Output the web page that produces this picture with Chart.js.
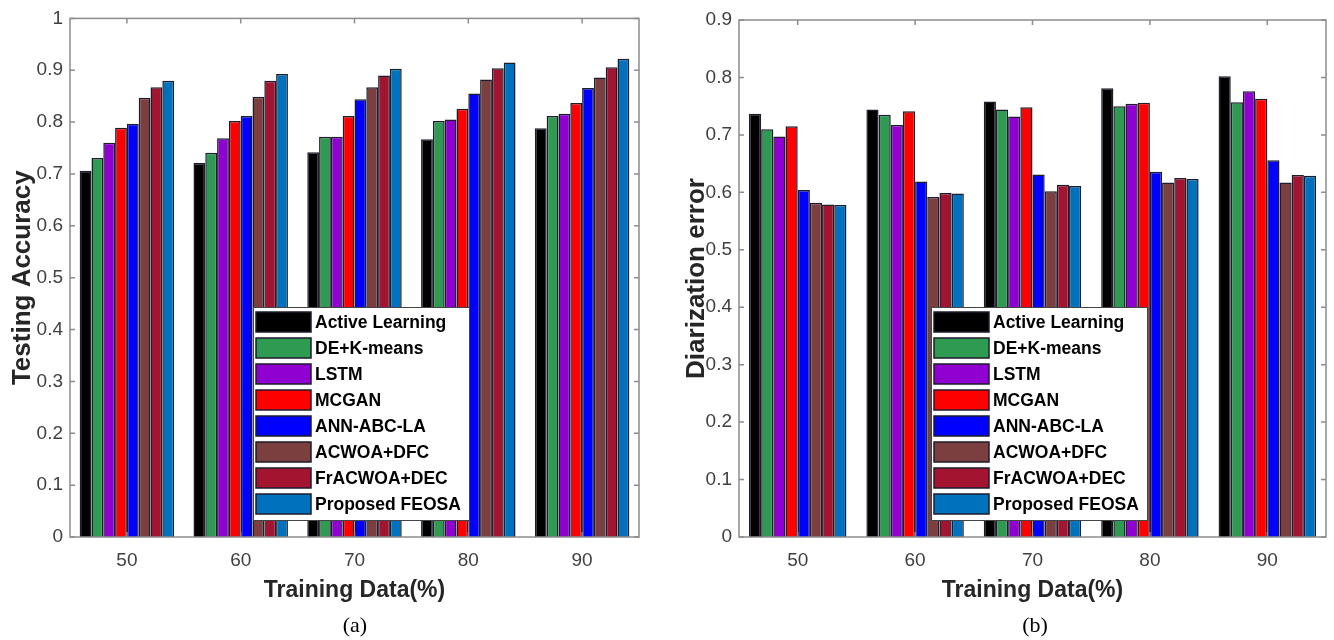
<!DOCTYPE html>
<html>
<head>
<meta charset="utf-8">
<script src="https://cdn.jsdelivr.net/npm/chart.js@4.4.0/dist/chart.umd.min.js"></script>
<style>
  body { margin: 0; background: #fff; width: 1334px; height: 640px; position: relative; overflow: hidden; }
  .wrap { position: absolute; top: 0; height: 615px; }
  #wa { left: 0; width: 660px; }
  #wb { left: 660px; width: 674px; }
  .cap { position: absolute; top: 612px; width: 60px; text-align: center; font: 22px "Liberation Serif", "Times New Roman", serif; color: #000; }
</style>
</head>
<body>
<div class="wrap" id="wa"><canvas id="chartA"></canvas></div>
<div class="wrap" id="wb"><canvas id="chartB"></canvas></div>
<div class="cap" style="left:325px">(a)</div>
<div class="cap" style="left:1005px">(b)</div>
<script>
// x categories (training data %)
var categories = ['50', '60', '70', '80', '90'];
var methods = ['Active Learning', 'DE+K-means', 'LSTM', 'MCGAN', 'ANN-ABC-LA', 'ACWOA+DFC', 'FrACWOA+DEC', 'Proposed FEOSA'];
var colors = ['#000000', '#2f9a52', '#9000d0', '#ff0000', '#0000ff', '#7c3f3f', '#a2142f', '#0072bd'];

// (a) testing accuracy
var accActive = [0.706, 0.721, 0.742, 0.767, 0.788];
var accDEKmeans = [0.731, 0.741, 0.772, 0.802, 0.812];
var accLSTM = [0.760, 0.769, 0.772, 0.805, 0.816];
var accMCGAN = [0.789, 0.802, 0.812, 0.826, 0.837];
var accANN = [0.797, 0.812, 0.844, 0.855, 0.866];
var accACWOA = [0.847, 0.849, 0.867, 0.882, 0.886];
var accFrACWOA = [0.867, 0.880, 0.890, 0.904, 0.906];
var accFEOSA = [0.880, 0.893, 0.903, 0.915, 0.922];

// (b) diarization error
var errActive = [0.737, 0.744, 0.758, 0.781, 0.802];
var errDEKmeans = [0.710, 0.735, 0.744, 0.750, 0.757];
var errLSTM = [0.697, 0.717, 0.732, 0.754, 0.776];
var errMCGAN = [0.715, 0.741, 0.748, 0.756, 0.763];
var errANN = [0.604, 0.619, 0.631, 0.636, 0.656];
var errACWOA = [0.582, 0.592, 0.602, 0.617, 0.617];
var errFrACWOA = [0.579, 0.599, 0.613, 0.625, 0.630];
var errFEOSA = [0.578, 0.598, 0.611, 0.623, 0.629];

var accSeries = [accActive, accDEKmeans, accLSTM, accMCGAN, accANN, accACWOA, accFrACWOA, accFEOSA];
var errSeries = [errActive, errDEKmeans, errLSTM, errMCGAN, errANN, errACWOA, errFrACWOA, errFEOSA];

var sans = 'Arial, "Liberation Sans", sans-serif';

// box, inward ticks and the legend inside the plot
var frame = {
  id: 'frame',
  afterDatasetsDraw: function (chart) {
    var a = chart.chartArea, c = chart.ctx, xs = chart.scales.x, ys = chart.scales.y;
    c.save();
    c.strokeStyle = '#8c8c8c';
    c.lineWidth = 1.5;
    c.strokeRect(a.left, a.top, a.right - a.left, a.bottom - a.top);
    c.beginPath();
    ys.ticks.forEach(function (t) {
      var p = ys.getPixelForValue(t.value);
      c.moveTo(a.left, p); c.lineTo(a.left + 5, p);
      c.moveTo(a.right, p); c.lineTo(a.right - 5, p);
    });
    categories.forEach(function (lab, i) {
      var p = xs.getPixelForValue(i);
      c.moveTo(p, a.top); c.lineTo(p, a.top + 5);
      c.moveTo(p, a.bottom); c.lineTo(p, a.bottom - 5);
    });
    c.stroke();
    c.restore();
  },
  afterDraw: function (chart) {
    var o = chart.options.plugins.frame, c = chart.ctx;
    var bx = o.legendX, by = o.legendY, w = 216, h = 213;
    c.save();
    c.fillStyle = '#fff';
    c.fillRect(bx, by, w, h);
    c.strokeStyle = '#444';
    c.lineWidth = 1;
    c.strokeRect(bx + 0.5, by + 0.5, w, h);
    chart.data.datasets.forEach(function (ds, i) {
      var cy = by + 15 + i * 26;
      c.fillStyle = ds.backgroundColor;
      c.fillRect(bx + 3, cy - 10, 55, 20);
      c.strokeStyle = '#1c1c2c';
      c.lineWidth = 1.5;
      c.strokeRect(bx + 3, cy - 10, 55, 20);
      c.fillStyle = '#000';
      c.font = 'bold 17.5px ' + sans;
      c.textBaseline = 'middle';
      c.fillText(ds.label, bx + 62, cy + 1);
    });
    c.restore();
  }
};

function makeChart(id, series, yMax, yTitle, axisW, pad, titlePad, legendX) {
  return new Chart(document.getElementById(id), {
    type: 'bar',
    data: {
      labels: categories,
      datasets: methods.map(function (m, i) {
        return {
          label: m,
          data: series[i],
          backgroundColor: colors[i],
          borderColor: '#1c1c2c',
          borderWidth: 1.5,
          categoryPercentage: 0.83,
          barPercentage: 1.0
        };
      })
    },
    options: {
      responsive: true,
      maintainAspectRatio: false,
      animation: false,
      layout: { padding: pad },
      plugins: {
        legend: { display: false },
        tooltip: { enabled: false },
        frame: { legendX: legendX, legendY: 307 }
      },
      scales: {
        x: {
          grid: { display: false, drawTicks: false },
          border: { display: false },
          ticks: { padding: 12, color: '#404040', font: { family: sans, size: 19 } },
          title: { display: true, text: 'Training Data(%)', color: '#262626', padding: { top: 4, bottom: 11 }, font: { family: sans, size: 23, weight: 'bold' } },
          afterFit: function (s) { s.height = 78; }
        },
        y: {
          min: 0,
          max: yMax,
          grid: { display: false, drawTicks: false },
          border: { display: false },
          ticks: {
            stepSize: 0.1,
            padding: 7,
            color: '#404040',
            font: { family: sans, size: 19 },
            callback: function (v) { return String(Math.round(v * 10) / 10); }
          },
          title: { display: true, text: yTitle, color: '#262626', padding: { top: titlePad, bottom: 0 }, font: { family: sans, size: 26, weight: 'bold' } },
          afterFit: function (s) { s.width = axisW; }
        }
      }
    },
    plugins: [frame]
  });
}

makeChart('chartA', accSeries, 1, 'Testing Accuracy', 70, { top: 17, right: 21, left: 0, bottom: 0 }, 7, 253);
makeChart('chartB', errSeries, 0.9, 'Diarization error', 79, { top: 20, right: 8, left: 0, bottom: 0 }, 21, 271);
</script>
</body>
</html>
